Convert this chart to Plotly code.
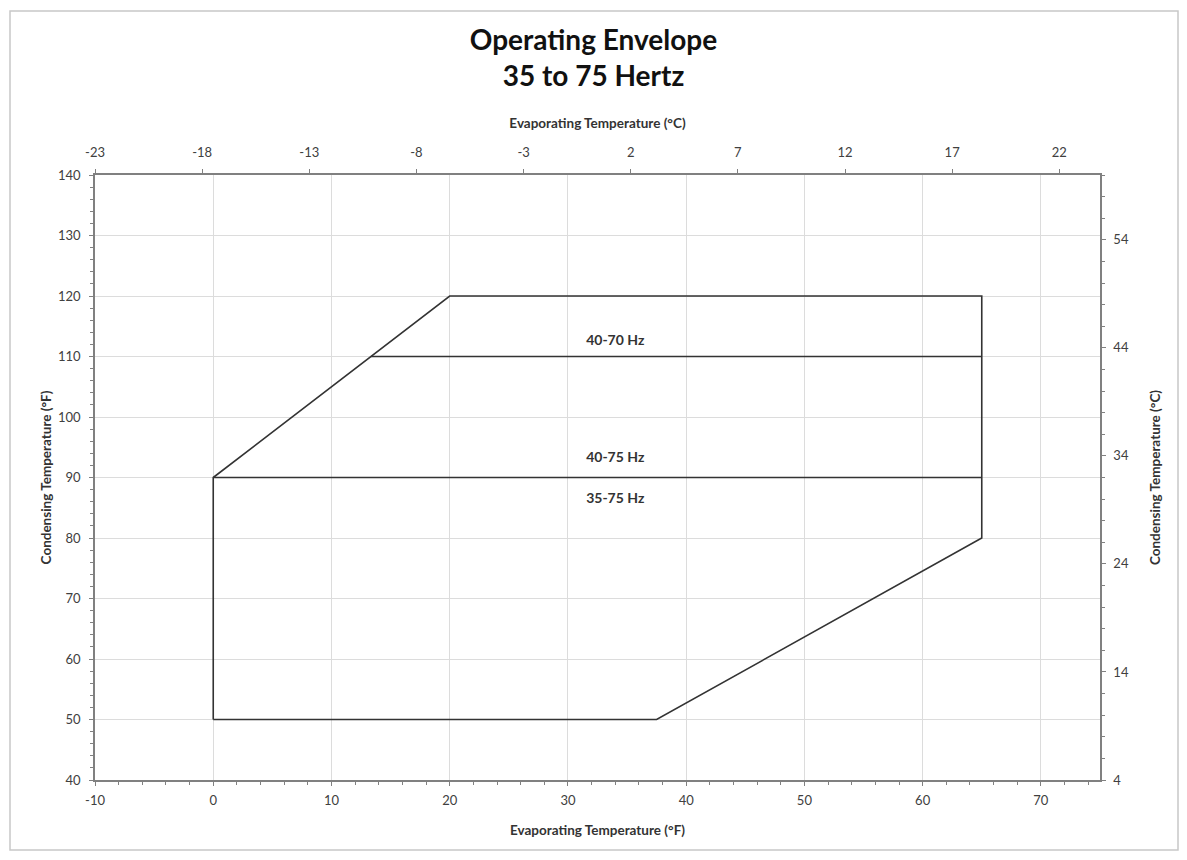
import plotly.graph_objects as go

# Envelope outline (°F)
env_x = [0, 0, 20, 65, 65, 37.5, 0]
env_y = [50, 90, 120, 120, 80, 50, 50]
# Internal boundary lines
line110_x = [13.33, 65]
line110_y = [110, 110]
line90_x = [0, 65]
line90_y = [90, 90]
# Region labels
label_text = ["40-70 Hz", "40-75 Hz", "35-75 Hz"]
label_x = [34, 34, 34]
label_y = [112.4, 93.2, 86.3]

# Tick values / labels
xF_ticks = [-10, 0, 10, 20, 30, 40, 50, 60, 70]
xC_ticks = [-23, -18, -13, -8, -3, 2, 7, 12, 17, 22]
yF_ticks = [40, 50, 60, 70, 80, 90, 100, 110, 120, 130, 140]
yC_ticks = [4, 14, 24, 34, 44, 54]

FONT = "Lato, 'Open Sans', sans-serif"
AX = "#808080"
LINE = "#333333"

fig = go.Figure()
fig.add_trace(go.Scatter(x=env_x, y=env_y, mode="lines",
                         line=dict(color=LINE, width=1.6), showlegend=False, hoverinfo="skip"))
fig.add_trace(go.Scatter(x=line110_x, y=line110_y, mode="lines",
                         line=dict(color=LINE, width=1.6), showlegend=False, hoverinfo="skip"))
fig.add_trace(go.Scatter(x=line90_x, y=line90_y, mode="lines",
                         line=dict(color=LINE, width=1.6), showlegend=False, hoverinfo="skip"))
fig.add_trace(go.Scatter(x=label_x, y=label_y, mode="text", text=label_text,
                         textfont=dict(family=FONT, size=14, color="#333333", weight="bold"),
                         showlegend=False, hoverinfo="skip"))
# invisible trace to activate secondary axes
fig.add_trace(go.Scatter(x=[0], y=[20], xaxis="x2", yaxis="y2", mode="markers",
                         marker=dict(opacity=0), showlegend=False, hoverinfo="skip"))

tickfont = dict(family=FONT, size=13, color="#404040")
titlefont = dict(family=FONT, size=13.5, color="#333333", weight="bold")

common = dict(showline=True, linecolor=AX, linewidth=1.5, ticks="outside",
              ticklen=4, tickcolor=AX, tickfont=tickfont, zeroline=False)


def lab(v):
    return [str(t).replace("\u2212", "-") for t in v]


fig.update_layout(
    width=1171, height=844,
    paper_bgcolor="white", plot_bgcolor="white",
    margin=dict(l=87, r=79, t=167, b=72),
    title=dict(text="<b>Operating Envelope<br>35 to 75 Hertz</b>",
               x=0.5, xanchor="center", y=1 - 42/844, yanchor="middle",
               font=dict(family=FONT, size=28, color="#111111")),
    xaxis=dict(range=[-10, 75], tickvals=xF_ticks, ticktext=lab(xF_ticks), showgrid=True,
               gridcolor="#dcdcdc", gridwidth=1, ticklabelstandoff=4,
               minor=dict(dtick=2, tick0=0, ticklen=3, tickcolor=AX, showgrid=False),
               title=dict(text="Evaporating Temperature (°F)", font=titlefont, standoff=18),
               **common),
    yaxis=dict(range=[40, 140], tickvals=yF_ticks, ticktext=lab(yF_ticks), showgrid=True,
               gridcolor="#dcdcdc", gridwidth=1, ticklabelstandoff=6,
               minor=dict(dtick=2, tick0=0, ticklen=3, tickcolor=AX, showgrid=False),
               title=dict(text="Condensing Temperature (°F)", font=titlefont, standoff=3),
               **common),
    xaxis2=dict(range=[-23, 23.9], tickvals=xC_ticks, ticktext=lab(xC_ticks),
                overlaying="x", side="top", showgrid=False, ticklabelstandoff=7,
                title=dict(text="Evaporating Temperature (°C)", font=titlefont, standoff=12),
                **common),
    yaxis2=dict(range=[4, 60], tickvals=yC_ticks, ticktext=lab(yC_ticks),
                overlaying="y", side="right", showgrid=False, ticklabelstandoff=5,
                minor=dict(dtick=2, tick0=0, ticklen=3, tickcolor=AX, showgrid=False),
                title=dict(text="Condensing Temperature (°C)", font=titlefont, standoff=23),
                **common),
    shapes=[dict(type="rect", xref="paper", yref="paper",
                 x0=-85/1005, x1=1+78/1005, y0=-70/605, y1=1+164/605,
                 line=dict(color="#c8c8c8", width=1.5), fillcolor="rgba(0,0,0,0)")],
)

fig.write_html("out.html")
